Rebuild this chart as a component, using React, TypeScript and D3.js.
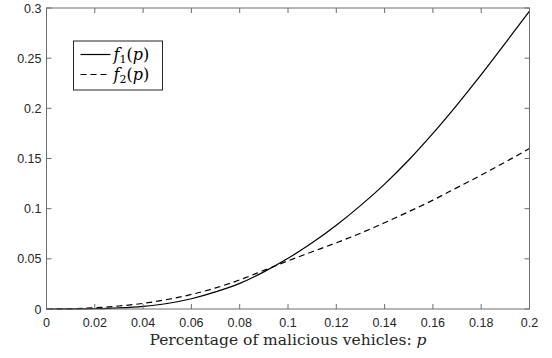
import React from "react";
import * as d3 from "d3";

const pValues = [
  0, 0.01, 0.02, 0.03, 0.04, 0.05, 0.06, 0.07, 0.08, 0.09, 0.1, 0.11, 0.12, 0.13,
  0.14, 0.15, 0.16, 0.17, 0.18, 0.19, 0.2,
];
const f1Values = [
  0, 0.0001, 0.0004, 0.0012, 0.0027, 0.0055, 0.0102, 0.017, 0.0255, 0.037,
  0.0505, 0.066, 0.0835, 0.103, 0.1245, 0.1485, 0.175, 0.2035, 0.2335, 0.265,
  0.297,
];
const f2Values = [
  0, 0.0003, 0.0012, 0.003, 0.0056, 0.0095, 0.0145, 0.021, 0.029, 0.0385, 0.048,
  0.057, 0.066, 0.0755, 0.086, 0.097, 0.1085, 0.121, 0.1335, 0.1465, 0.16,
];
const xTicks = [0, 0.02, 0.04, 0.06, 0.08, 0.1, 0.12, 0.14, 0.16, 0.18, 0.2];
const yTicks = [0, 0.05, 0.1, 0.15, 0.2, 0.25, 0.3];

const WIDTH = 552;
const HEIGHT = 358;
const MARGIN = { top: 8, right: 22.5, bottom: 49, left: 46.5 };
const TICK = 5;
const AXIS_COLOR = "#6e6e6e";
const SANS = "Liberation Sans, Arial, Helvetica, sans-serif";
const SERIF = "DejaVu Serif, Liberation Serif, serif";

export default function App() {
  const boundsWidth = WIDTH - MARGIN.left - MARGIN.right;
  const boundsHeight = HEIGHT - MARGIN.top - MARGIN.bottom;

  const xScale = d3.scaleLinear().domain([0, 0.2]).range([0, boundsWidth]);
  const yScale = d3.scaleLinear().domain([0, 0.3]).range([boundsHeight, 0]);

  const line = d3
    .line<number>()
    .x((_, i) => xScale(pValues[i]))
    .y((d) => yScale(d))
    .curve(d3.curveMonotoneX);

  const fmt = (v: number) => String(+v.toFixed(2));

  return (
    <svg
      width={WIDTH}
      height={HEIGHT}
      style={{ position: "absolute", left: 0, top: 0, background: "white" }}
    >
      <g transform={`translate(${MARGIN.left},${MARGIN.top})`}>
        <path
          d={line(f2Values) ?? ""}
          fill="none"
          stroke="black"
          strokeWidth={1.2}
          strokeDasharray="6,4"
        />
        <path d={line(f1Values) ?? ""} fill="none" stroke="black" strokeWidth={1.2} />

        {/* box */}
        <rect
          x={0}
          y={0}
          width={boundsWidth}
          height={boundsHeight}
          fill="none"
          stroke={AXIS_COLOR}
          strokeWidth={1}
        />

        {xTicks.map((t) => (
          <g key={`x${t}`}>
            <line x1={xScale(t)} x2={xScale(t)} y1={boundsHeight} y2={boundsHeight - TICK} stroke={AXIS_COLOR} />
            <line x1={xScale(t)} x2={xScale(t)} y1={0} y2={TICK} stroke={AXIS_COLOR} />
            <text
              x={xScale(t)}
              y={boundsHeight + 18}
              textAnchor="middle"
              style={{ fontFamily: SANS, fontSize: 12.5 }}
              fill="#262626"
            >
              {fmt(t)}
            </text>
          </g>
        ))}

        {yTicks.map((t) => (
          <g key={`y${t}`}>
            <line x1={0} x2={TICK} y1={yScale(t)} y2={yScale(t)} stroke={AXIS_COLOR} />
            <line x1={boundsWidth} x2={boundsWidth - TICK} y1={yScale(t)} y2={yScale(t)} stroke={AXIS_COLOR} />
            <text
              x={-5}
              y={yScale(t) + 4.5}
              textAnchor="end"
              style={{ fontFamily: SANS, fontSize: 12.5 }}
              fill="#262626"
            >
              {fmt(t)}
            </text>
          </g>
        ))}

        <text
          x={boundsWidth / 2}
          y={boundsHeight + 36}
          textAnchor="middle"
          style={{ fontFamily: SERIF, fontSize: 15.5 }}
          fill="#262626"
        >
          Percentage of malicious vehicles:{" "}
          <tspan fontStyle="italic">p</tspan>
        </text>

        {/* legend */}
        <g transform="translate(27,33)">
          <rect x={0} y={0} width={89} height={49} fill="white" stroke="#262626" strokeWidth={1} />
          <line x1={7} x2={37} y1={13.5} y2={13.5} stroke="black" strokeWidth={1.2} />
          <line x1={7} x2={37} y1={33.5} y2={33.5} stroke="black" strokeWidth={1.2} strokeDasharray="6,4" />
          {["1", "2"].map((s, i) => (
            <text key={s} x={40} y={19 + i * 20} style={{ fontFamily: SERIF, fontSize: 16 }} fill="black">
              <tspan fontStyle="italic">f</tspan>
              <tspan fontSize={11} dy={3}>{s}</tspan>
              <tspan dy={-3}>(</tspan>
              <tspan fontStyle="italic">p</tspan>
              <tspan>)</tspan>
            </text>
          ))}
        </g>
      </g>
    </svg>
  );
}
